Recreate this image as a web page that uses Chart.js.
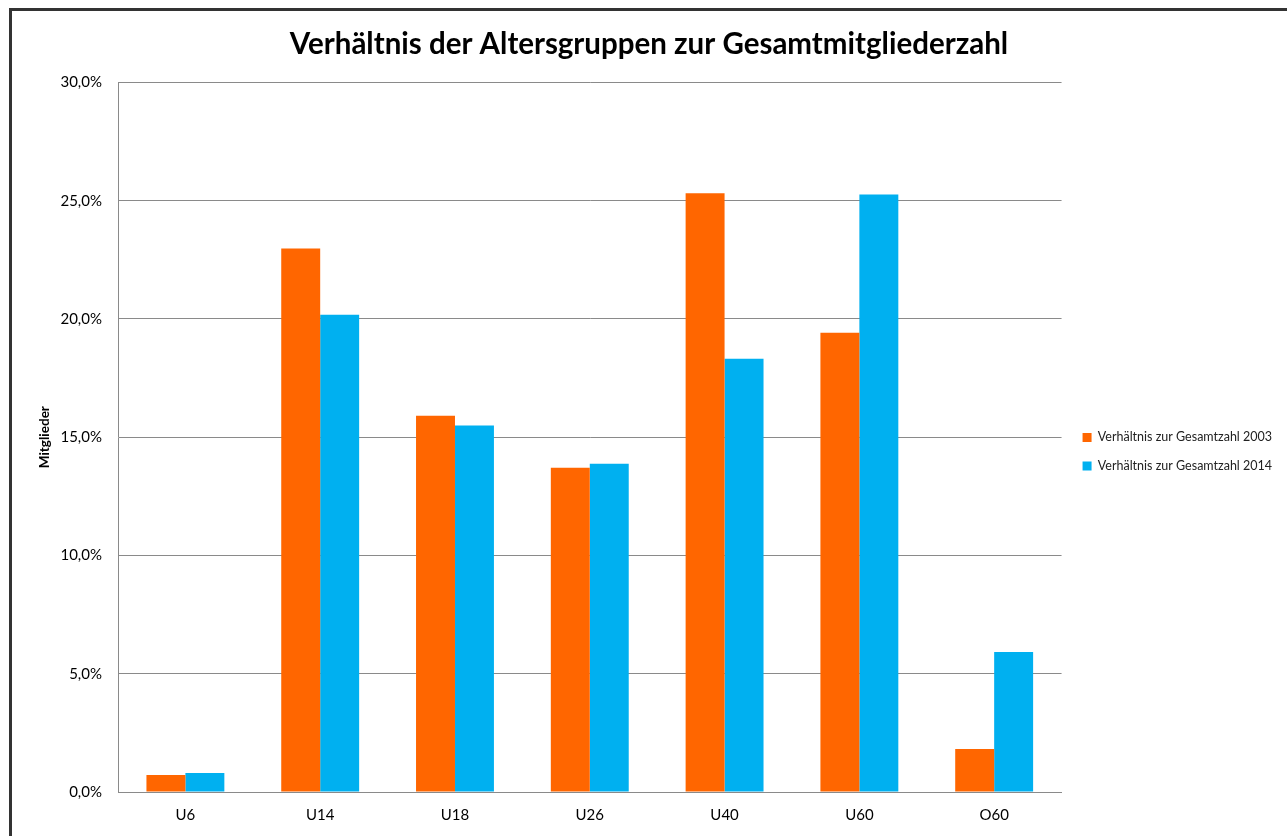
<!DOCTYPE html>
<html>
<head>
<meta charset="utf-8">
<script src="https://cdn.jsdelivr.net/npm/chart.js@4"></script>
<style>
  body { margin: 0; background: #fff; }
  #frame { position: absolute; left: 9px; top: 8px; width: 1300px; height: 900px; border: 3px solid #333; }
  #wrap { position: absolute; left: 0; top: 0; width: 1287px; height: 836px; }
</style>
</head>
<body>
<div id="frame"></div>
<div id="wrap"><canvas id="barChart"></canvas></div>
<script>
const categories = ['U6', 'U14', 'U18', 'U26', 'U40', 'U60', 'O60'];
const values2003 = [0.72, 22.98, 15.91, 13.71, 25.31, 19.42, 1.82];
const values2014 = [0.80, 20.18, 15.49, 13.88, 18.32, 25.26, 5.92];
const seriesLabels = ['Verhältnis zur Gesamtzahl 2003', 'Verhältnis zur Gesamtzahl 2014'];

const fontFamily = 'Lato, "Open Sans", sans-serif';

// nudge legend and title a little, like the original
const boxShift = {
    id: 'boxShift',
    afterLayout(chart) {
        if (chart.legend) {
            chart.legend.left += 5;
            chart.legend.right += 5;
        }
        if (chart.titleBlock) {
            chart.titleBlock.left -= 8;
            chart.titleBlock.right -= 8;
        }
    }
};

const barChart = document.getElementById("barChart");

const barChartElement = new Chart(barChart, {
    type: 'bar',
    data: {
        labels: categories,
        datasets: [
            {
                label: seriesLabels[0],
                data: values2003,
                backgroundColor: "#FF6600"
            },
            {
                label: seriesLabels[1],
                data: values2014,
                backgroundColor: "#00B0F0"
            }
        ]
    },
    options: {
        responsive: true,
        maintainAspectRatio: false,
        animation: false,
        layout: { padding: { left: 37, right: 10, top: 27, bottom: 0 } },
        datasets: {
            bar: { barPercentage: 1, categoryPercentage: 0.578 }
        },
        plugins: {
            title: {
                display: true,
                text: 'Verhältnis der Altersgruppen zur Gesamtmitgliederzahl',
                color: '#000',
                font: { family: fontFamily, size: 29.5, weight: 'bold' },
                padding: { top: 0, bottom: 20 }
            },
            legend: {
                position: 'right',
                title: {
                    display: true,
                    text: ' ',
                    font: { family: fontFamily, size: 12 },
                    padding: { top: 0, bottom: 26 }
                },
                labels: {
                    boxWidth: 9,
                    boxHeight: 9,
                    color: '#222',
                    padding: 16,
                    font: { family: fontFamily, size: 12.5 }
                }
            },
            tooltip: { enabled: false }
        },
        scales: {
            x: {
                grid: { display: false, drawTicks: false },
                border: { color: '#8a8a8a', width: 1 },
                ticks: {
                    color: '#000',
                    padding: 14,
                    font: { family: fontFamily, size: 15 }
                },
                afterFit: (scale) => { scale.height = 44; }
            },
            y: {
                min: 0,
                max: 30,
                grid: { color: '#8a8a8a', drawTicks: false },
                border: { color: '#8a8a8a', width: 1 },
                ticks: {
                    stepSize: 5,
                    color: '#000',
                    padding: 16,
                    font: { family: fontFamily, size: 15 },
                    callback: (v) => v.toFixed(1).replace('.', ',') + '%'
                },
                title: {
                    display: true,
                    text: 'Mitglieder',
                    color: '#000',
                    font: { family: fontFamily, size: 13.5, weight: 'bold' },
                    padding: { top: 0, bottom: 8 }
                },
                afterFit: (scale) => { scale.width = 81; }
            }
        }
    },
    plugins: [boxShift]
});
</script>
</body>
</html>
